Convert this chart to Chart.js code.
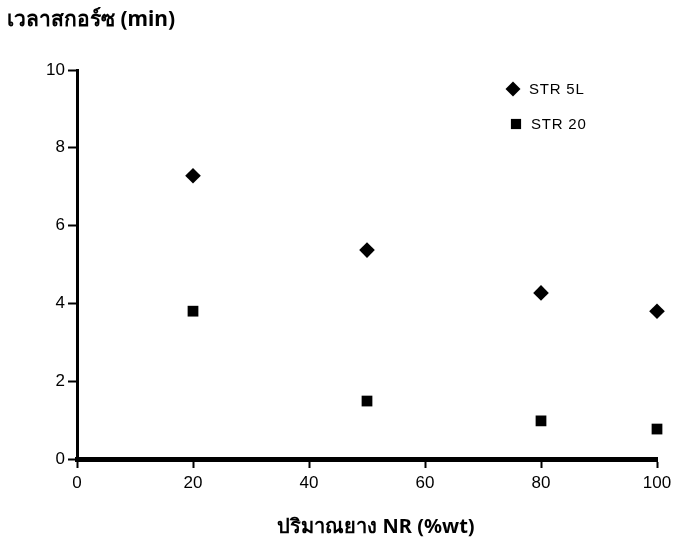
<!DOCTYPE html>
<html>
<head>
<meta charset="utf-8">
<script src="https://cdn.jsdelivr.net/npm/chart.js@4.4.1/dist/chart.umd.min.js"></script>
<style>
  html, body { margin: 0; padding: 0; background: #fff; }
  #wrap { width: 673px; height: 541px; position: relative; }
</style>
</head>
<body>
<div id="wrap"><canvas id="c" width="673" height="541"></canvas></div>
<script>
const nrContent = [20, 50, 80, 100];
const str5L = [7.28, 5.37, 4.27, 3.80];
const str20 = [3.80, 1.49, 0.98, 0.77];
const xTicks = [0, 20, 40, 60, 80, 100];
const yTicks = [0, 2, 4, 6, 8, 10];
const seriesNames = ['STR 5L', 'STR 20'];
const yTitle = 'เวลาสกอร์ซ (min)';
const xTitle = 'ปริมาณยาง NR (%wt)';

const FONT = '"Liberation Sans", Arial, Helvetica, sans-serif';
const THAI_FONT = '"Noto Sans", "DejaVu Sans", sans-serif';

const legendPlugin = {
  id: 'manualLegend',
  afterDraw(chart) {
    const ctx = chart.ctx;
    const a = chart.chartArea;
    const items = [
      { style: 'rectRot', r: 7.5, x: a.left + 436, y: a.top + 19, tx: a.left + 452, label: seriesNames[0] },
      { style: 'rect', r: 7.2, x: a.left + 439, y: a.top + 54, tx: a.left + 454, label: seriesNames[1] }
    ];
    ctx.save();
    ctx.fillStyle = '#000';
    ctx.strokeStyle = '#000';
    ctx.font = '15px ' + FONT;
    ctx.textBaseline = 'middle';
    ctx.textAlign = 'left';
    if ('letterSpacing' in ctx) ctx.letterSpacing = '0.8px';
    items.forEach(it => {
      Chart.helpers.drawPoint(ctx, { pointStyle: it.style, radius: it.r, borderWidth: 0 }, it.x, it.y);
      ctx.fillText(it.label, it.tx, it.y + 1);
    });
    ctx.restore();
  }
};

const titlesPlugin = {
  id: 'titles',
  afterDraw(chart) {
    const ctx = chart.ctx;
    const a = chart.chartArea;
    ctx.save();
    ctx.fillStyle = '#000';
    ctx.textBaseline = 'middle';
    ctx.font = 'bold 21px ' + THAI_FONT;
    ctx.textAlign = 'left';
    ctx.fillText(yTitle, 7, 20);
    ctx.font = 'bold 20px ' + THAI_FONT;
    ctx.textAlign = 'center';
    ctx.fillText(xTitle, (a.left + a.right) / 2 + 9, 527);
    ctx.restore();
  }
};

new Chart(document.getElementById('c'), {
  type: 'scatter',
  data: {
    datasets: [
      {
        label: seriesNames[0],
        data: nrContent.map((x, i) => ({ x: x, y: str5L[i] })),
        pointStyle: 'rectRot',
        pointRadius: 7.8,
        pointHoverRadius: 7.8,
        backgroundColor: '#000',
        borderColor: '#000',
        borderWidth: 0,
        clip: false
      },
      {
        label: seriesNames[1],
        data: nrContent.map((x, i) => ({ x: x, y: str20[i] })),
        pointStyle: 'rect',
        pointRadius: 7.6,
        pointHoverRadius: 7.6,
        backgroundColor: '#000',
        borderColor: '#000',
        borderWidth: 0,
        clip: false
      }
    ]
  },
  options: {
    responsive: false,
    animation: false,
    devicePixelRatio: 1,
    layout: { padding: { top: 70, left: 0, right: 16, bottom: 0 } },
    plugins: {
      legend: { display: false },
      tooltip: { enabled: false },
      title: { display: false }
    },
    scales: {
      x: {
        type: 'linear',
        min: 0,
        max: 100,
        afterBuildTicks(scale) { scale.ticks = xTicks.map(v => ({ value: v })); },
        afterFit(scale) { scale.height = 82; scale.paddingLeft = 0; scale.paddingRight = 0; },
        border: { display: true, color: '#000', width: 5 },
        grid: {
          display: true,
          drawOnChartArea: false,
          drawTicks: true,
          tickLength: 9,
          tickWidth: 2,
          tickColor: '#000'
        },
        ticks: {
          color: '#000',
          font: { family: FONT, size: 17 },
          padding: 5,
          maxRotation: 0,
          callback: v => String(v)
        },
        title: { display: false }
      },
      y: {
        type: 'linear',
        min: 0,
        max: 10,
        afterBuildTicks(scale) { scale.ticks = yTicks.map(v => ({ value: v })); },
        afterFit(scale) { scale.width = 77; scale.paddingTop = 0; scale.paddingBottom = 0; },
        border: { display: true, color: '#000', width: 3 },
        grid: {
          display: true,
          drawOnChartArea: false,
          drawTicks: true,
          tickLength: 9,
          tickWidth: 2,
          tickColor: '#000'
        },
        ticks: {
          color: '#000',
          font: { family: FONT, size: 17 },
          padding: 3,
          callback: v => String(v)
        }
      }
    }
  },
  plugins: [legendPlugin, titlesPlugin]
});
</script>
</body>
</html>
